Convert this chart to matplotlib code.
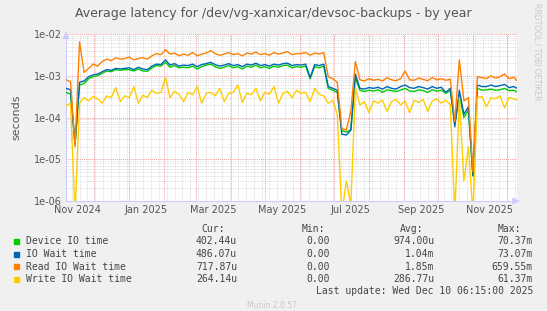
import numpy as np
import pandas as pd
import matplotlib
matplotlib.use('Agg')
from matplotlib import pyplot as plt
import matplotlib.dates as mdates
from matplotlib.ticker import LogLocator, NullFormatter

title = 'Average latency for /dev/vg-xanxicar/devsoc-backups - by year'

# values in milliseconds, one sample every 4 days from 2024-11-06
read_ms = [0.80, 0.72, 0.02, 6.5, 1.2, 1.5, 1.9, 1.7, 2.2, 2.5,
           2.3, 2.7, 2.5, 2.6, 2.8, 2.4, 2.6, 2.7, 2.5, 3.0,
           3.4, 3.2, 4.2, 3.3, 3.5, 3.0, 3.3, 3.1, 3.6, 3.0,
           3.3, 3.5, 4.0, 3.4, 3.1, 3.3, 3.6, 3.2, 3.4, 3.0,
           3.5, 3.3, 3.7, 3.2, 3.4, 3.1, 3.6, 3.3, 3.5, 3.8,
           3.2, 3.4, 3.4, 3.6, 3.1, 3.5, 3.3, 3.6, 0.95, 0.85,
           0.70, 0.055, 0.05, 0.14, 2.2, 0.80, 0.75, 0.85, 0.78, 0.82,
           0.75, 0.90, 0.80, 0.76, 0.85, 1.30, 0.80, 0.78, 0.88, 0.82,
           0.76, 0.90, 0.80, 0.85, 0.78, 0.82, 0.08, 2.4, 0.25, 0.30,
           0.005, 0.95, 0.90, 0.85, 1.00, 0.88, 0.95, 1.10, 0.85, 0.92,
           0.72]
iowait_ms = [0.50, 0.46, 0.022, 0.70, 0.75, 0.95, 1.05, 1.10, 1.25, 1.40,
             1.35, 1.50, 1.45, 1.50, 1.55, 1.40, 1.60, 1.45, 1.40, 1.70,
             1.90, 1.85, 2.40, 1.80, 1.95, 1.70, 1.80, 1.75, 1.90, 1.65,
             1.85, 1.95, 2.10, 1.85, 1.70, 1.80, 1.95, 1.75, 1.85, 1.65,
             1.90, 1.80, 2.00, 1.75, 1.85, 1.70, 1.90, 1.80, 1.95, 2.00,
             1.75, 1.85, 1.80, 1.90, 0.90, 1.85, 1.75, 1.90, 0.55, 0.50,
             0.45, 0.040, 0.038, 0.05, 1.10, 0.50, 0.48, 0.52, 0.50, 0.53,
             0.48, 0.55, 0.50, 0.48, 0.55, 0.60, 0.52, 0.50, 0.55, 0.52,
             0.48, 0.55, 0.50, 0.53, 0.40, 0.50, 0.06, 0.45, 0.12, 0.18,
             0.004, 0.60, 0.55, 0.55, 0.60, 0.55, 0.58, 0.62, 0.52, 0.55,
             0.49]
device_ms = [0.40, 0.36, 0.024, 0.60, 0.65, 0.85, 0.95, 1.00, 1.15, 1.30,
             1.25, 1.40, 1.35, 1.40, 1.40, 1.30, 1.45, 1.30, 1.28, 1.55,
             1.75, 1.70, 2.10, 1.60, 1.75, 1.55, 1.60, 1.55, 1.70, 1.45,
             1.65, 1.80, 1.90, 1.65, 1.50, 1.60, 1.75, 1.55, 1.65, 1.45,
             1.70, 1.60, 1.80, 1.55, 1.65, 1.50, 1.70, 1.60, 1.75, 1.80,
             1.55, 1.65, 1.60, 1.70, 0.85, 1.65, 1.55, 1.70, 0.50, 0.45,
             0.40, 0.048, 0.045, 0.05, 0.90, 0.45, 0.42, 0.45, 0.43, 0.46,
             0.40, 0.46, 0.44, 0.42, 0.45, 0.50, 0.43, 0.42, 0.46, 0.44,
             0.40, 0.46, 0.43, 0.45, 0.38, 0.44, 0.07, 0.35, 0.10, 0.15,
             0.004, 0.50, 0.45, 0.46, 0.48, 0.45, 0.46, 0.50, 0.44, 0.45,
             0.40]
write_ms = [0.19, 0.22, 0.0005, 0.22, 0.30, 0.25, 0.32, 0.28, 0.22, 0.33,
            0.30, 0.52, 0.24, 0.33, 0.30, 0.55, 0.22, 0.34, 0.30, 0.45,
            0.38, 0.40, 0.90, 0.30, 0.42, 0.36, 0.24, 0.40, 0.35, 0.55,
            0.22, 0.38, 0.40, 0.33, 0.50, 0.24, 0.38, 0.40, 0.60, 0.23,
            0.38, 0.35, 0.50, 0.25, 0.40, 0.36, 0.55, 0.22, 0.38, 0.42,
            0.30, 0.45, 0.38, 0.40, 0.24, 0.50, 0.36, 0.33, 0.22, 0.26,
            0.12, 0.0005, 0.003, 0.0008, 0.50, 0.20, 0.24, 0.13, 0.25, 0.22,
            0.26, 0.14, 0.24, 0.27, 0.20, 0.25, 0.13, 0.26, 0.23, 0.27,
            0.14, 0.25, 0.28, 0.22, 0.26, 0.20, 0.0005, 0.30, 0.003, 0.02,
            0.0005, 0.30, 0.32, 0.18, 0.30, 0.28, 0.33, 0.17, 0.30, 0.28,
            0.26]

names = ['Device IO time', 'IO Wait time', 'Read IO Wait time', 'Write IO Wait time']
colors = ['#00CC00', '#0066B3', '#FF8000', '#FFCC00']
cur = ['402.44u', '486.07u', '717.87u', '264.14u']
mins = ['0.00', '0.00', '0.00', '0.00']
avg = ['974.00u', '1.04m', '1.85m', '286.77u']
mx = ['70.37m', '73.07m', '659.55m', '61.37m']

dates = pd.date_range('2024-11-06', periods=len(read_ms), freq='4D')
series = [device_ms, iowait_ms, read_ms, write_ms]

fig = plt.figure(figsize=(5.47, 3.11), dpi=100, facecolor='#F0F0F0')
ax = fig.add_axes([66 / 547, 110 / 311, 451 / 547, 167 / 311])
ax.set_facecolor('white')

for vals, c in zip(series, colors):
    ax.plot(dates, np.array(vals) / 1000.0, color=c, lw=1.0, zorder=3)

ax.set_yscale('log')
ax.set_ylim(1e-6, 1e-2)
ax.set_xlim(pd.Timestamp('2024-11-06'), pd.Timestamp('2025-12-10'))

# grid, rrdtool style
ax.yaxis.set_major_locator(LogLocator(base=10, numticks=10))
ax.yaxis.set_minor_locator(LogLocator(base=10, subs=np.arange(2, 10), numticks=20))
ax.yaxis.set_minor_formatter(NullFormatter())
ax.yaxis.set_major_formatter(plt.FuncFormatter(lambda v, p: '%.0e' % v))
ax.xaxis.set_major_locator(mdates.MonthLocator(bymonth=[1, 3, 5, 7, 9, 11], bymonthday=16))
ax.xaxis.set_major_formatter(mdates.DateFormatter('%b %Y'))
ax.xaxis.set_minor_locator(mdates.WeekdayLocator(byweekday=0))

ax.grid(which='minor', axis='both', color='#d8d8d8', ls=(0, (1, 1)), lw=0.6, zorder=1)
ax.grid(which='major', axis='y', color='#f0a0a0', ls=(0, (1, 1)), lw=0.7, zorder=2)
for m in pd.date_range('2024-12-01', '2025-12-01', freq='MS'):
    ax.axvline(m, color='#f0a0a0', ls=(0, (1, 1)), lw=0.7, zorder=2)

ax.tick_params(which='both', length=0, labelsize=7, colors='#555555', pad=3)
for s in ['top', 'right']:
    ax.spines[s].set_visible(False)
for s in ['left', 'bottom']:
    ax.spines[s].set_color('#ccccff')
ax.annotate('', xy=(1.012, 0), xytext=(0.99, 0), xycoords='axes fraction',
            arrowprops=dict(arrowstyle='-|>', color='#ccccff', lw=0.8))
ax.annotate('', xy=(0, 1.03), xytext=(0, 0.99), xycoords='axes fraction',
            arrowprops=dict(arrowstyle='-|>', color='#ccccff', lw=0.8))

ax.set_ylabel('seconds', fontsize=8, color='#555555', labelpad=9)
fig.text(273 / 547, 1 - 14 / 311, title, ha='center', va='center', fontsize=9, color='#555555')
fig.text(537 / 547, 1 - 52 / 311, 'RRDTOOL / TOBI OETIKER', rotation=270, ha='center',
         va='center', fontsize=5.5, color='#c8c8c8')

# legend table
mono = 'DejaVu Sans Mono'
fs = 7
tc = '#444444'
for x, h in zip([225, 325, 423, 521], ['Cur:', 'Min:', 'Avg:', 'Max:']):
    fig.text(x / 547, 1 - 229 / 311, h, ha='right', va='center', family=mono, fontsize=fs, color=tc)
for i, n in enumerate(names):
    y = 1 - (241.5 + i * 12.5) / 311
    fig.patches.append(plt.Rectangle((14 / 547, y - 2.5 / 311), 5 / 547, 5 / 311,
                                     transform=fig.transFigure, color=colors[i], figure=fig))
    fig.text(26 / 547, y, n, ha='left', va='center', family=mono, fontsize=fs, color=tc)
    fig.text(237 / 547, y, cur[i], ha='right', va='center', family=mono, fontsize=fs, color=tc)
    fig.text(330 / 547, y, mins[i], ha='right', va='center', family=mono, fontsize=fs, color=tc)
    fig.text(434 / 547, y, avg[i], ha='right', va='center', family=mono, fontsize=fs, color=tc)
    fig.text(533 / 547, y, mx[i], ha='right', va='center', family=mono, fontsize=fs, color=tc)
fig.text(533 / 547, 1 - 291.5 / 311, 'Last update: Wed Dec 10 06:15:00 2025', ha='right',
         va='center', family=mono, fontsize=fs, color=tc)
fig.text(272 / 547, 1 - 305 / 311, 'Munin 2.0.57', ha='center', va='center', fontsize=5.5,
         color='#c8c8c8')

fig.savefig('out.png', dpi=100, facecolor=fig.get_facecolor())
